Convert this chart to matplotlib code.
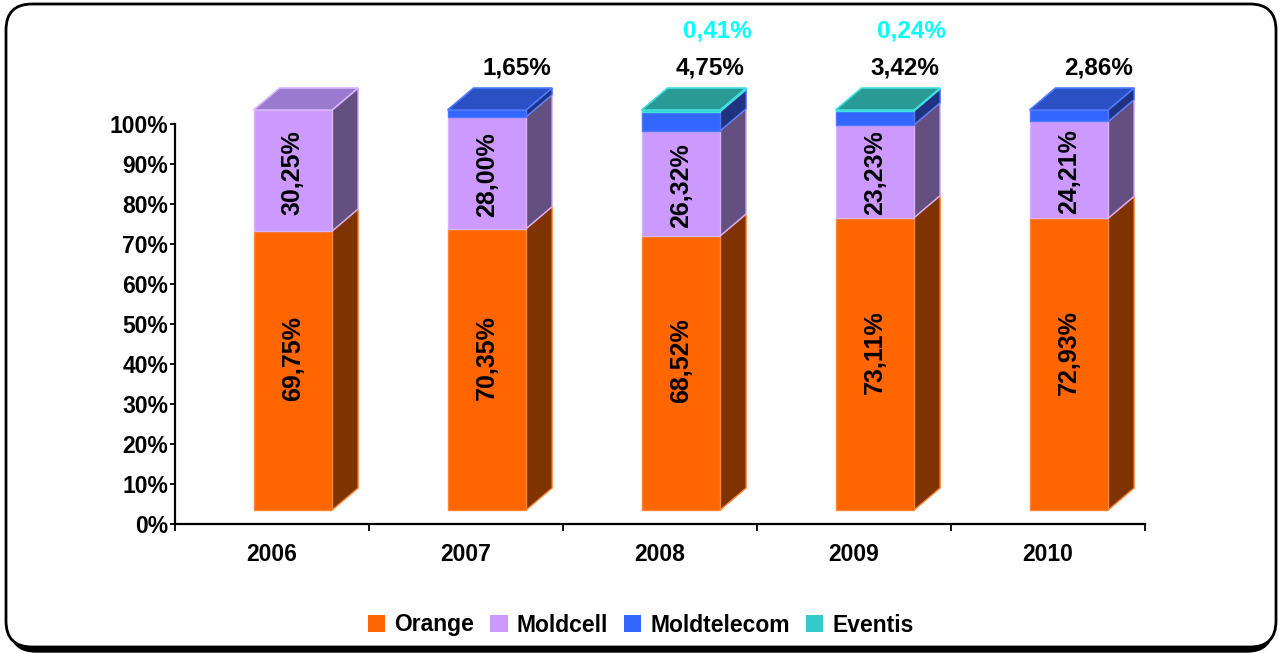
import matplotlib
matplotlib.use("Agg")
import matplotlib.pyplot as plt
from matplotlib.patches import Polygon, FancyBboxPatch, Patch

years = ["2006", "2007", "2008", "2009", "2010"]
series = ["Orange", "Moldcell", "Moldtelecom", "Eventis"]
orange = [69.75, 70.35, 68.52, 73.11, 72.93]
moldcell = [30.25, 28.00, 26.32, 23.23, 24.21]
moldtelecom = [0.0, 1.65, 4.75, 3.42, 2.86]
eventis = [0.0, 0.0, 0.41, 0.24, 0.0]
orange_lbl = ["69,75%", "70,35%", "68,52%", "73,11%", "72,93%"]
moldcell_lbl = ["30,25%", "28,00%", "26,32%", "23,23%", "24,21%"]
moldtelecom_lbl = ["", "1,65%", "4,75%", "3,42%", "2,86%"]
eventis_lbl = ["", "", "0,41%", "0,24%", ""]
yticks = list(range(0, 101, 10))

front_c = ["#FF6600", "#CC99FF", "#3366FF", "#33CCCC"]
side_c = ["#7F3300", "#634F80", "#1F3380", "#1A6666"]
top_c = ["#B34700", "#997ACC", "#2A50C4", "#2A9A94"]
edge_c = ["#FF8533", "#D9B3FF", "#4D79FF", "#40E0E0"]

FONT = "Liberation Sans"
W, H = 1285, 653
fig = plt.figure(figsize=(W / 100, H / 100), dpi=100)
fig.patch.set_facecolor("white")

# frame with shadow
shadow = FancyBboxPatch((10, 1), 1273 - 10, 645, boxstyle="round,pad=0,rounding_size=26",
                        transform=None, facecolor="black", edgecolor="black", zorder=-10)
frame = FancyBboxPatch((6, 6), 1270, 643, boxstyle="round,pad=0,rounding_size=26",
                       transform=None, facecolor="white", edgecolor="black", linewidth=2, zorder=-9)
fig.patches.extend([shadow, frame])

ax = fig.add_axes([175 / W, 1 - 524 / H, 970 / W, 400 / H])
ax.set_facecolor("none")
ax.set_xlim(-0.5, 4.5)
ax.set_ylim(0, 100)

base = 3.5      # front-face floor offset (data units)
dx = 0.134      # depth offset in x (data units)
dy = 5.5        # depth offset in y (data units)
left_off = -0.095
width = 0.405

data = [orange, moldcell, moldtelecom, eventis]
for i in range(len(years)):
    x0 = i + left_off
    x1 = x0 + width
    bottom = base
    top_idx = 0
    for s, vals in enumerate(data):
        v = vals[i]
        if v <= 0:
            continue
        y0, y1 = bottom, bottom + v
        ax.bar(x0, v, width=width, bottom=y0, align="edge", color=front_c[s],
               edgecolor=edge_c[s], linewidth=1, clip_on=False, zorder=3)
        side = Polygon([(x1, y0), (x1 + dx, y0 + dy), (x1 + dx, y1 + dy), (x1, y1)],
                       closed=True, facecolor=side_c[s], edgecolor=edge_c[s],
                       linewidth=1, clip_on=False, zorder=2)
        ax.add_patch(side)
        bottom = y1
        top_idx = s
    topface = Polygon([(x0, bottom), (x0 + dx, bottom + dy), (x1 + dx, bottom + dy), (x1, bottom)],
                      closed=True, facecolor=top_c[top_idx], edgecolor=edge_c[top_idx],
                      linewidth=1.2, clip_on=False, zorder=4)
    ax.add_patch(topface)

    xc = x0 + width / 2
    ax.text(xc, base + orange[i] / 2 + 3, orange_lbl[i], rotation=90, ha="center", va="center",
            fontsize=18, fontweight="bold", family=FONT, zorder=6)
    ax.text(xc, base + orange[i] + moldcell[i] / 2 - 0.5, moldcell_lbl[i], rotation=90, ha="center",
            va="center", fontsize=18, fontweight="bold", family=FONT, zorder=6)
    if moldtelecom_lbl[i]:
        ax.text(i + 0.26, 114, moldtelecom_lbl[i], ha="center", va="center", fontsize=17.5,
                fontweight="bold", family=FONT, color="black", clip_on=False, zorder=6)
    if eventis_lbl[i]:
        ax.text(i + 0.295, 123.3, eventis_lbl[i], ha="center", va="center", fontsize=17.5,
                fontweight="bold", family=FONT, color="#00FFFF", clip_on=False, zorder=6)

# axes styling
for sp in ["top", "right"]:
    ax.spines[sp].set_visible(False)
for sp in ["left", "bottom"]:
    ax.spines[sp].set_linewidth(1.6)
    ax.spines[sp].set_color("black")
ax.set_yticks(yticks)
ax.set_yticklabels([f"{t}%" for t in yticks], fontsize=16.5, fontweight="bold", family=FONT)
ax.tick_params(axis="y", length=3.5, width=1.3, pad=1.5, direction="out")
ax.set_xticks(range(len(years)))
ax.set_xticklabels(years, fontsize=16.5, fontweight="bold", family=FONT)
ax.tick_params(axis="x", which="major", length=0, pad=14)
ax.set_xticks([k - 0.5 for k in range(len(years) + 1)], minor=True)
ax.tick_params(axis="x", which="minor", length=5, width=1.3, direction="out")

handles = [Patch(facecolor=front_c[s], edgecolor="none") for s in range(len(series))]
leg = fig.legend(handles, series, loc="center", bbox_to_anchor=(641 / W, 1 - 625 / H), ncol=4,
                 frameon=False, handlelength=0.75, handleheight=0.75, handletextpad=0.4,
                 columnspacing=0.7, prop={"family": FONT, "weight": "bold", "size": 16.5})

fig.savefig("out.png", dpi=100)
